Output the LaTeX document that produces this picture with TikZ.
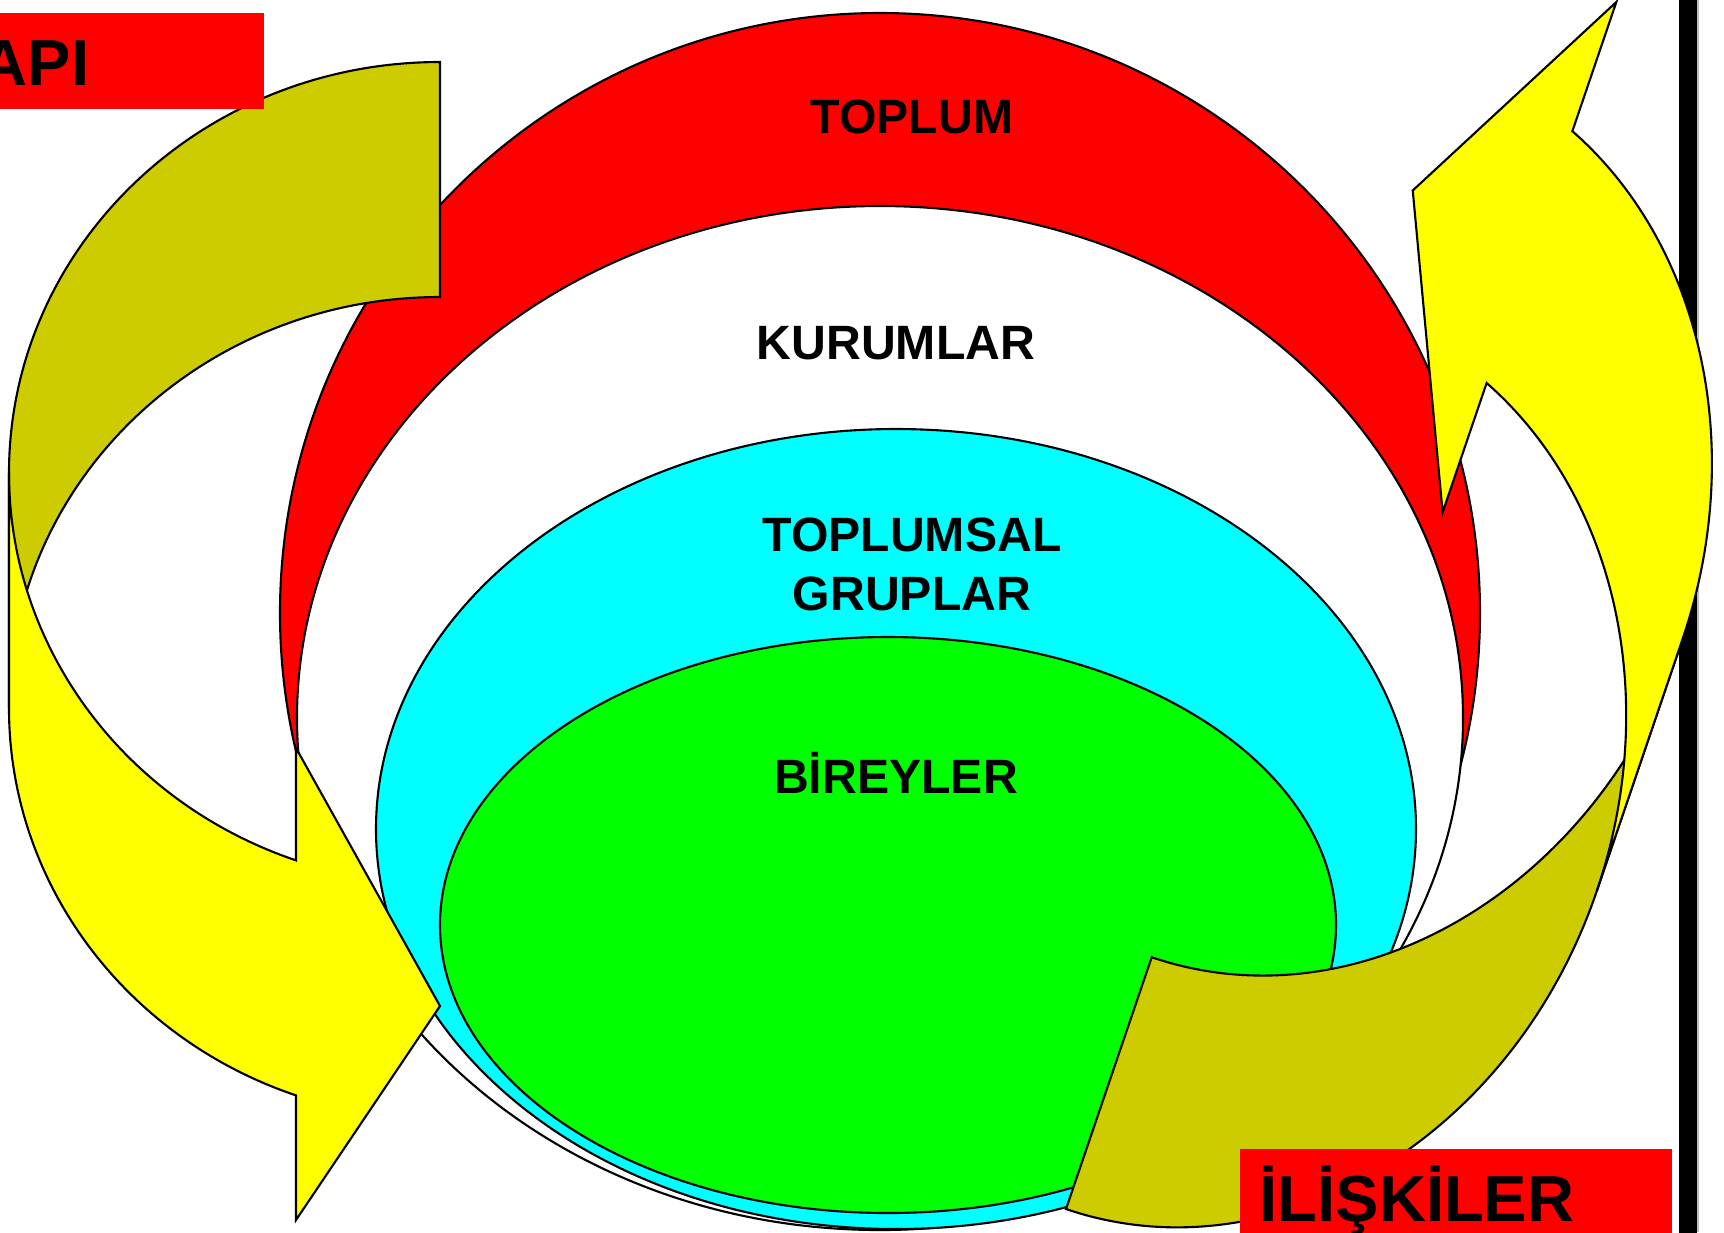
\documentclass[tikz,border=0pt]{standalone}
\usepackage{fontspec}
\setmainfont{Liberation Sans}
\usetikzlibrary{calc}

\definecolor{olive arrow}{RGB}{204,204,0}
\definecolor{pure yellow}{RGB}{255,255,0}
\definecolor{pure cyan}{RGB}{0,255,255}
\definecolor{pure green}{RGB}{0,255,0}
\definecolor{pure red}{RGB}{255,0,0}

\tikzset{
	rim/.style={draw=black, line width=0.6pt},
	ring text/.style={font=\bfseries\fontsize{13.7}{16}\selectfont, inner sep=0pt},
	tag text/.style={font=\bfseries\fontsize{18.5}{22}\selectfont, inner sep=0pt}
}

% curved arrow, end edge at u=0: #1 rx, #2 ry, #3 band, #4 head base, #5 barb, #6 tip, #7 barb
\newcommand{\curvedarrow}[7]{%
	\pgfmathsetmacro{\tone}{180-acos(#4/#1)}
	\filldraw[rim, fill=olive arrow] (0,0) arc [start angle=270, end angle=180, x radius=#1, y radius=#2]
		-- (-#1,{#3+#2}) arc [start angle=180, end angle=270, x radius=#1, y radius=#2] -- cycle;
	\filldraw[rim, fill=pure yellow] (-#1,#2) arc [start angle=180, end angle=\tone, x radius=#1, y radius=#2]
		-- (-#4,#5) -- (0,#6) -- (-#4,#7)
		-- (-#4,{#3+#2+#2*sin(\tone)}) arc [start angle=\tone, end angle=180, x radius=#1, y radius=#2] -- cycle;
}

\begin{document}
\begin{tikzpicture}[x=0.01cm, y=-0.01cm]
	\useasboundingbox (0,0) rectangle (1724,1232);

	% nested rings
	\filldraw[rim, fill=pure red] (880,613) ellipse [x radius=600, y radius=600];
	\filldraw[rim, fill=white] (880,718) ellipse [x radius=583, y radius=512];
	\filldraw[rim, fill=pure cyan] (896,829) ellipse [x radius=520, y radius=400];
	\filldraw[rim, fill=pure green] (888,925) ellipse [x radius=448, y radius=288];

	% frame bar
	\fill[black] (1679,-5) rectangle (1697,1240);
	\draw[gray!50, line width=0.3pt] (1698,0) -- (1698,1232);

	% arrows
	\begin{scope}[shift={(440,62)}]
		\curvedarrow{431}{411}{235}{144}{686}{944}{1158}
	\end{scope}
	\begin{scope}[shift={(1066,1209)}, rotate=161.2]
		\curvedarrow{400}{472}{266}{132}{781}{1076}{1320}
	\end{scope}

	% tags
	\fill[pure red] (0,13) rectangle (264,109);
	\node[tag text, anchor=base west] (yapi) at (-20,85) {API};
	\fill[pure red] (1240,1149) rectangle (1672,1240);
	\node[tag text, anchor=base west] (iliskiler) at (1259,1221) {İLİŞKİLER};

	% ring labels
	\node[ring text, anchor=base] (toplum) at (912,133) {TOPLUM};
	\node[ring text, anchor=base] (kurumlar) at (896,359) {KURUMLAR};
	\node[ring text, anchor=base] (toplumsal) at (912,551) {TOPLUMSAL};
	\node[ring text, anchor=base] (gruplar) at (912,610) {GRUPLAR};
	\node[ring text, anchor=base] (bireyler) at (896,793) {BİREYLER};
\end{tikzpicture}
\end{document}
